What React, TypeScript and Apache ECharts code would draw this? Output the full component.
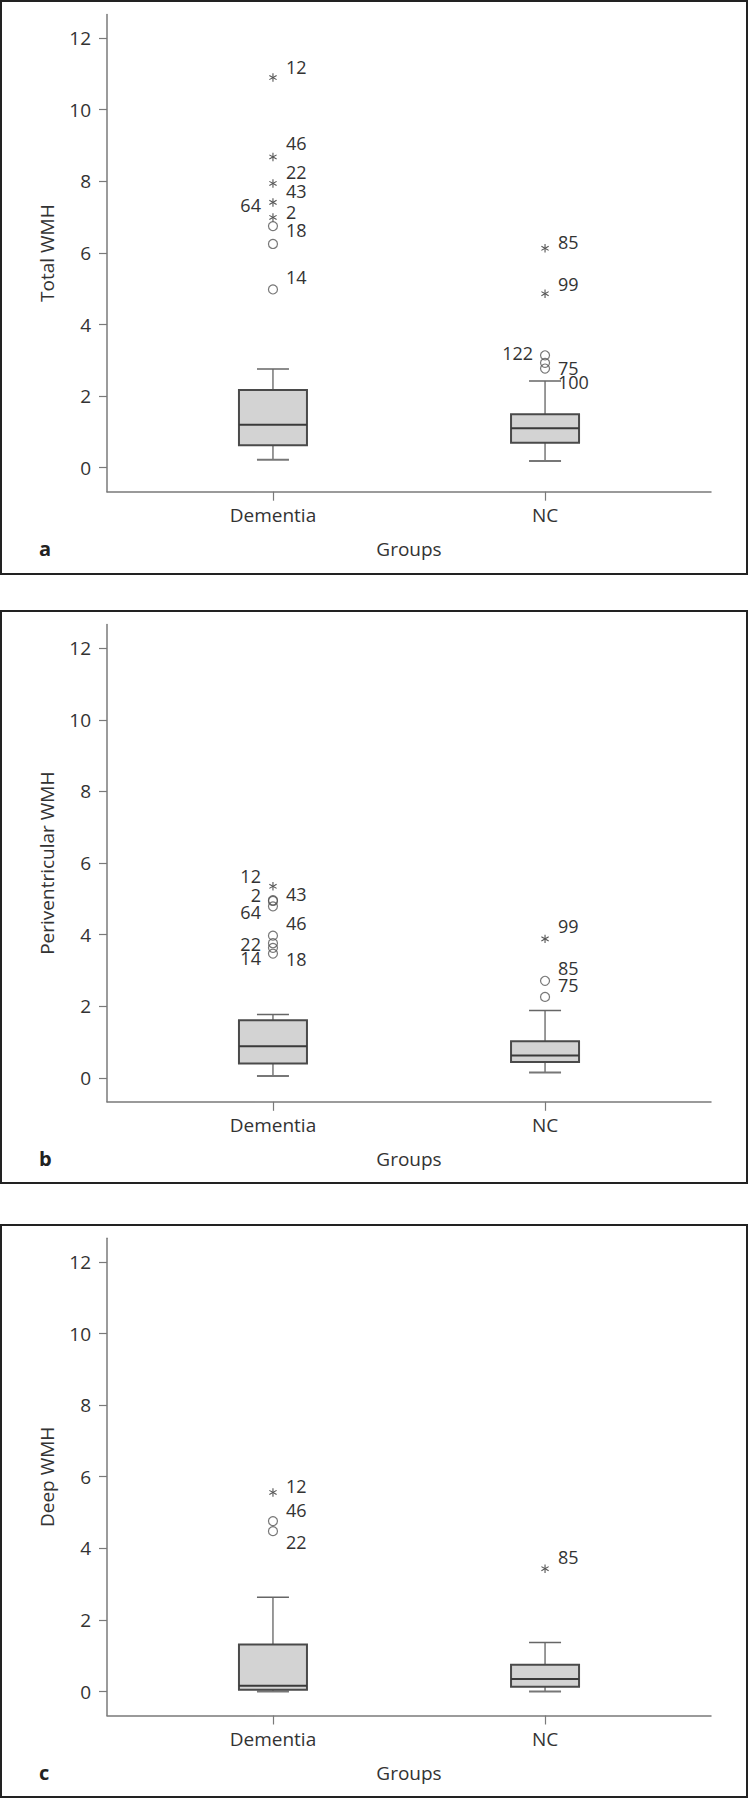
import React, { useEffect, useRef } from 'react';
import * as echarts from 'echarts';

const groups = ['Dementia', 'NC'];
const yTicks = [0, 2, 4, 6, 8, 10, 12];
const xTicks = [1, 2];
const panelTitles = ['Total WMH', 'Periventricular WMH', 'Deep WMH'];
const panelLetters = ['a', 'b', 'c'];

// [min, Q1, median, Q3, max] for Dementia, NC
const totalBox = [[0.22, 0.63, 1.2, 2.17, 2.76], [0.19, 0.7, 1.1, 1.49, 2.42]];
const periBox = [[0.05, 0.4, 0.88, 1.61, 1.77], [0.15, 0.44, 0.62, 1.02, 1.88]];
const deepBox = [[0.0, 0.05, 0.16, 1.31, 2.63], [0.0, 0.13, 0.35, 0.75, 1.37]];

// extreme outliers (*): [group (1 = Dementia, 2 = NC), value]
const totalExtreme = [[1, 10.9], [1, 8.68], [1, 7.94], [1, 7.41], [1, 6.99], [2, 6.13], [2, 4.86]];
const periExtreme = [[1, 5.35], [2, 3.88]];
const deepExtreme = [[1, 5.56], [2, 3.43]];

// outliers (o): [group, value]
const totalOutlier = [[1, 6.75], [1, 6.25], [1, 4.98], [2, 3.14], [2, 2.93], [2, 2.77]];
const periOutlier = [[1, 4.96], [1, 4.94], [1, 4.79], [1, 3.97], [1, 3.76], [1, 3.63], [1, 3.47], [2, 2.71], [2, 2.26]];
const deepOutlier = [[1, 4.76], [1, 4.48]];

// case labels: [text, group, value at label centre, side]
const totalLabels = [
  ['12', 1, 11.2, 'r'], ['46', 1, 9.08, 'r'], ['22', 1, 8.27, 'r'], ['43', 1, 7.74, 'r'],
  ['64', 1, 7.33, 'l'], ['2', 1, 7.13, 'r'], ['18', 1, 6.65, 'r'], ['14', 1, 5.33, 'r'],
  ['85', 2, 6.3, 'r'], ['99', 2, 5.14, 'r'], ['122', 2, 3.21, 'l'], ['75', 2, 2.79, 'r'], ['100', 2, 2.4, 'r'],
];
const periLabels = [
  ['12', 1, 5.65, 'l'], ['2', 1, 5.1, 'l'], ['43', 1, 5.13, 'r'], ['64', 1, 4.62, 'l'],
  ['46', 1, 4.33, 'r'], ['22', 1, 3.75, 'l'], ['14', 1, 3.35, 'l'], ['18', 1, 3.33, 'r'],
  ['99', 2, 4.25, 'r'], ['85', 2, 3.07, 'r'], ['75', 2, 2.59, 'r'],
];
const deepLabels = [
  ['12', 1, 5.74, 'r'], ['46', 1, 5.08, 'r'], ['22', 1, 4.17, 'r'], ['85', 2, 3.75, 'r'],
];

const boxes = [totalBox, periBox, deepBox];
const extremes = [totalExtreme, periExtreme, deepExtreme];
const outliers = [totalOutlier, periOutlier, deepOutlier];
const labels = [totalLabels, periLabels, deepLabels];

const FONT = '"Open Sans", "Noto Sans", sans-serif';
const TEXT = '#333';
const AXIS = '#7a7a7a';
const MARK = '#555';

const gridTops = [14.5, 624.6, 1238.3];
const gridH = 477.2;
const frames = [[1, 1, 746, 573], [1, 611, 746, 572], [1, 1225, 746, 572]];

function renderBox(params: any, api: any) {
  const x = api.value(0);
  const pMin = api.coord([x, api.value(1)]);
  const pQ1 = api.coord([x, api.value(2)]);
  const pMed = api.coord([x, api.value(3)]);
  const pQ3 = api.coord([x, api.value(4)]);
  const pMax = api.coord([x, api.value(5)]);
  const cx = pMed[0];
  const hw = 34;
  const cw = 16;
  const thin = { stroke: '#555', lineWidth: 1.2 };
  return {
    type: 'group',
    children: [
      { type: 'line', shape: { x1: cx, y1: pQ3[1], x2: cx, y2: pMax[1] }, style: thin },
      { type: 'line', shape: { x1: cx, y1: pQ1[1], x2: cx, y2: pMin[1] }, style: thin },
      { type: 'line', shape: { x1: cx - cw, y1: pMax[1], x2: cx + cw, y2: pMax[1] }, style: { stroke: '#666', lineWidth: 1.5 } },
      { type: 'line', shape: { x1: cx - cw, y1: pMin[1], x2: cx + cw, y2: pMin[1] }, style: { stroke: '#777', lineWidth: 2 } },
      {
        type: 'rect',
        shape: { x: cx - hw, y: pQ3[1], width: hw * 2, height: pQ1[1] - pQ3[1] },
        style: { fill: '#d3d3d3', stroke: '#4a4a4a', lineWidth: 2 },
      },
      { type: 'line', shape: { x1: cx - hw, y1: pMed[1], x2: cx + hw, y2: pMed[1] }, style: { stroke: '#3a3a3a', lineWidth: 2 } },
    ],
  };
}

function renderStar(params: any, api: any) {
  const p = api.coord([api.value(0), api.value(1)]);
  const r = 4.2;
  const children = [90, 30, 150].map((deg) => {
    const a = (deg * Math.PI) / 180;
    const dx = Math.cos(a) * r;
    const dy = Math.sin(a) * r;
    return {
      type: 'line',
      shape: { x1: p[0] - dx, y1: p[1] - dy, x2: p[0] + dx, y2: p[1] + dy },
      style: { stroke: MARK, lineWidth: 1.1 },
    };
  });
  return { type: 'group', children };
}

function makeLabelRenderer(list: any[]) {
  return (params: any, api: any) => {
    const item = list[params.dataIndex];
    const p = api.coord([api.value(0), api.value(1)]);
    const right = item[3] === 'r';
    return {
      type: 'text',
      x: p[0] + (right ? 13 : -12),
      y: p[1],
      style: {
        text: item[0],
        fill: TEXT,
        fontSize: 18,
        fontFamily: FONT,
        align: right ? 'left' : 'right',
        verticalAlign: 'middle',
      },
    };
  };
}

export default function App() {
  const ref = useRef<HTMLDivElement>(null);

  useEffect(() => {
    if (!ref.current) return;
    const chart = echarts.init(ref.current, undefined, { renderer: 'svg' });

    const grid: any[] = [];
    const xAxis: any[] = [];
    const yAxis: any[] = [];
    const series: any[] = [];
    const graphic: any[] = [];

    for (let i = 0; i < 3; i++) {
      grid.push({ left: 107, width: 604, top: gridTops[i], height: gridH, containLabel: false });
      xAxis.push({
        gridIndex: i,
        type: 'value',
        min: 0.39,
        max: 2.61,
        name: 'Groups',
        nameLocation: 'middle',
        nameGap: 48,
        nameTextStyle: { fontSize: 19, color: TEXT, fontFamily: FONT },
        axisLine: { show: true, onZero: false, lineStyle: { color: AXIS, width: 1.5 } },
        axisTick: { show: true, length: 9, customValues: xTicks, lineStyle: { color: AXIS, width: 1.2 } },
        axisLabel: {
          customValues: xTicks,
          formatter: (v: number) => groups[Math.round(v) - 1] ?? '',
          margin: 14,
          fontSize: 19,
          color: TEXT,
          fontFamily: FONT,
        },
        splitLine: { show: false },
      });
      yAxis.push({
        gridIndex: i,
        type: 'value',
        min: -0.67,
        max: 12.66,
        name: panelTitles[i],
        nameLocation: 'middle',
        nameGap: 51,
        nameTextStyle: { fontSize: 19, color: TEXT, fontFamily: FONT },
        axisLine: { show: true, onZero: false, lineStyle: { color: AXIS, width: 1.5 } },
        axisTick: { show: true, length: 8, customValues: yTicks, lineStyle: { color: AXIS, width: 1.2 } },
        axisLabel: { customValues: yTicks, margin: 16, fontSize: 19, color: TEXT, fontFamily: FONT },
        splitLine: { show: false },
      });

      series.push({
        type: 'custom',
        xAxisIndex: i,
        yAxisIndex: i,
        renderItem: renderBox,
        encode: { x: 0, y: [1, 2, 3, 4, 5] },
        data: boxes[i].map((b, k) => [k + 1, ...b]),
        z: 2,
      });
      series.push({
        type: 'scatter',
        xAxisIndex: i,
        yAxisIndex: i,
        symbol: 'circle',
        symbolSize: 9,
        itemStyle: { color: 'rgba(0,0,0,0)', borderColor: MARK, borderWidth: 1.2 },
        data: outliers[i],
        z: 3,
      });
      series.push({
        type: 'custom',
        xAxisIndex: i,
        yAxisIndex: i,
        renderItem: renderStar,
        encode: { x: 0, y: 1 },
        data: extremes[i],
        z: 3,
      });
      series.push({
        type: 'custom',
        xAxisIndex: i,
        yAxisIndex: i,
        renderItem: makeLabelRenderer(labels[i]),
        encode: { x: 0, y: 1 },
        data: labels[i].map((l) => [l[1], l[2]]),
        z: 4,
      });

      const f = frames[i];
      graphic.push({
        type: 'rect',
        shape: { x: f[0], y: f[1], width: f[2], height: f[3] },
        style: { fill: 'none', stroke: '#222', lineWidth: 2 },
        silent: true,
      });
      graphic.push({
        type: 'text',
        x: 39,
        y: gridTops[i] + gridH + 57,
        style: {
          text: panelLetters[i],
          fontSize: 20,
          fontWeight: 'bold',
          fontFamily: FONT,
          fill: '#222',
          verticalAlign: 'middle',
        },
        silent: true,
      });
    }

    chart.setOption({
      animation: false,
      backgroundColor: '#fff',
      textStyle: { fontFamily: FONT },
      grid,
      xAxis,
      yAxis,
      series,
      graphic,
    });

    return () => chart.dispose();
  }, []);

  return (
    <div
      ref={ref}
      style={{ position: 'absolute', left: 0, top: 0, width: 749, height: 1799, background: '#fff' }}
    />
  );
}
